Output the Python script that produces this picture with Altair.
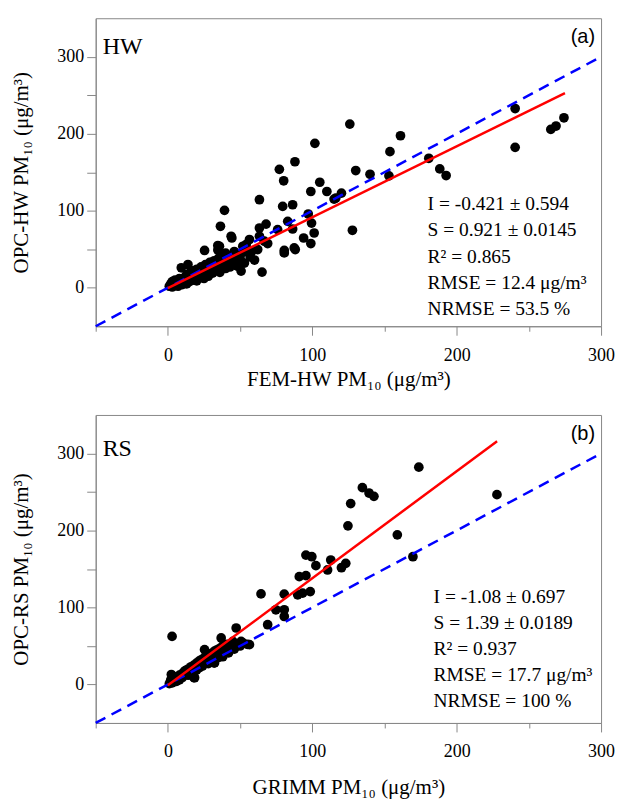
import altair as alt
import pandas as pd

# ---------------- data ----------------
hw_fem = [126.0, 101.8, 161.1, 153.8, 130.1, 140.0, 153.1, 180.7, 188.3, 192.7,
          240.5, 240.5, 265.2, 268.8, 274.3, 127.8, 105.2, 99.0, 110.1, 115.1,
          120.2, 97.2, 99.5, 101.3, 94.0, 99.0, 88.0, 77.2, 80.2, 116.3,
          63.4, 79.5, 86.4, 83.0, 63.4, 68.0, 86.4, 76.0, 80.6, 87.5,
          63.4, 54.2, 39.2, 36.4, 44.3, 69.1, 65.2, 50.7, 25.4, 34.6,
          34.6, 80.6, 88.2, 9.3, 13.9, 35.7, 43.8, 56.5, 51.9, 62.2,
          66.8,
          1, 2, 3, 3, 4, 5, 5, 6, 7, 7, 8, 8, 9, 10, 10, 11, 12, 12, 13, 13,
          14, 15, 15, 16, 17, 17, 18, 18, 19, 20, 20, 21, 22, 22, 23, 24, 25, 25,
          26, 27, 28, 28, 29, 30, 30, 31, 32, 32, 33, 34, 35, 35, 36, 37, 38, 38,
          39, 40, 40, 41, 42, 43, 44, 45, 46, 47, 48, 49, 50, 52, 53, 55, 57, 58, 60]
hw_opc = [212.5, 187.5, 197.4, 176.7, 152.2, 147.4, 145.3, 168.1, 154.3, 145.7,
          232.7, 182.3, 205.6, 210.0, 220.7, 74.6, 137.0, 125.0, 125.0, 115.1,
          122.8, 95.7, 84.0, 71.1, 64.6, 57.4, 163.6, 153.8, 138.9, 116.4,
          114.3, 105.6, 107.8, 86.2, 77.6, 82.7, 76.3, 75.5, 48.4, 51.7,
          66.8, 56.1, 100.5, 79.8, 64.6, 57.4, 20.3, 21.6, 48.4, 54.8,
          49.0, 45.2, 49.6, 25.9, 30.2, 53.9, 66.8, 62.6, 53.9, 49.6,
          60.4,
          2, 5, 1, 8, 4, 3, 10, 6, 2, 9, 5, 12, 8, 4, 11, 7, 14, 9, 5, 17,
          11, 8, 19, 13, 15, 22, 10, 18, 14, 24, 9, 17, 20, 13, 27, 18, 22, 12,
          30, 20, 25, 15, 33, 22, 28, 19, 35, 26, 30, 24, 38, 29, 20, 33, 42, 28,
          35, 25, 45, 31, 38, 27, 40, 33, 47, 36, 28, 42, 38, 46, 32, 50, 40, 47, 36]

rs_grimm = [173.8, 227.9, 134.7, 139.3, 142.7, 126.6, 124.7, 158.9, 169.7, 95.6,
            99.7, 102.5, 112.8, 110.6, 120.2, 123.2, 95.6, 98.6, 93.3, 64.5,
            80.6, 74.8, 80.6, 80.6, 91.0, 89.9, 2.9, 69.1, 47.3, 36.9,
            25.4, 50.7, 45.0, 56.5, 32.3, 18.5, 2.4,
            1, 2, 2, 3, 4, 4, 5, 6, 6, 7, 8, 8, 9, 10, 10, 11, 12, 12, 13, 14, 14,
            15, 16, 16, 17, 18, 18, 19, 20, 20, 21, 22, 22, 23, 24, 24, 25, 26, 27,
            28, 28, 29, 30, 30, 31, 32, 32, 33, 34, 35, 36, 37, 38, 38, 40, 41, 42,
            44, 45, 46, 48, 50, 52, 55]
rs_opc = [282.2, 246.5, 255.6, 248.6, 244.3, 234.9, 206.0, 194.3, 165.9, 168.0,
          165.9, 154.3, 161.6, 148.7, 151.6, 157.3, 141.3, 120.6, 118.6, 117.6,
          117.3, 97.0, 97.0, 88.3, 140.0, 116.4, 62.4, 77.6, 73.3, 60.4,
          45.2, 56.0, 49.5, 51.7, 28.0, 8.7, 12.9,
          1, 3, 6, 2, 5, 9, 7, 4, 10, 9, 12, 6, 11, 14, 9, 16, 13, 18, 15, 20, 12,
          18, 23, 15, 21, 25, 9, 22, 28, 19, 26, 31, 22, 28, 33, 24, 30, 36, 29,
          38, 27, 34, 40, 30, 36, 43, 28, 38, 45, 35, 47, 40, 50, 36, 44, 52, 41,
          48, 56, 46, 52, 50, 54, 52]

# regression fits as printed on the chart
hw_fit = {"I": -0.421, "S": 0.921, "xmax": 275}
rs_fit = {"I": -1.08, "S": 1.39, "xmax": 228}
one_to_one = [-50, 300]

hw_text = ["I = -0.421 ± 0.594", "S = 0.921 ± 0.0145", "R² = 0.865",
           "RMSE = 12.4 μg/m³", "NRMSE = 53.5 %"]
rs_text = ["I = -1.08 ± 0.697", "S = 1.39 ± 0.0189", "R² = 0.937",
           "RMSE = 17.7 μg/m³", "NRMSE = 100 %"]

x_ticks = [-50, 0, 50, 100, 150, 200, 250, 300]
y_ticks = [0, 50, 100, 150, 200, 250, 300]

SERIF = "Liberation Serif"
W, H = 507, 309


def panel(xs, ys, fit, lines, tag, letter, xtitle, ytitle, text_x, text_y0, tag_y, xtitle_y):
    df = pd.DataFrame({"x": xs, "y": ys})
    xaxis = alt.Axis(
        values=x_ticks,
        labelExpr="(datum.value % 100 === 0 && datum.value >= 0) ? datum.label : ''",
        tickSize={"condition": {"test": "datum.value % 100 === 0", "value": 9}, "value": 5},
        labelPadding=11,
        title=xtitle, titleY=xtitle_y, titleBaseline="middle",
    )
    yaxis = alt.Axis(
        values=y_ticks,
        labelExpr="datum.value % 100 === 0 ? datum.label : ''",
        tickSize=9, labelPadding=3,
        title=ytitle, titleX=-74, titleBaseline="middle", titleAngle=270,
    )
    xs_ = alt.Scale(domain=[-50, 300], nice=False, zero=False)
    ys_ = alt.Scale(domain=[-50, 350], nice=False, zero=False)

    pts = alt.Chart(df).mark_circle(size=95, color="black", opacity=1).encode(
        x=alt.X("x:Q", scale=xs_, axis=xaxis),
        y=alt.Y("y:Q", scale=ys_, axis=yaxis),
    )
    d11 = pd.DataFrame({"x": one_to_one, "y": one_to_one})
    blue = alt.Chart(d11).mark_line(color="#0000ff", strokeWidth=2.5, strokeDash=[11, 7]).encode(
        x="x:Q", y="y:Q")
    fx = [0, fit["xmax"]]
    dfit = pd.DataFrame({"x": fx, "y": [fit["I"] + fit["S"] * v for v in fx]})
    red = alt.Chart(dfit).mark_line(color="#ff0000", strokeWidth=2.5).encode(x="x:Q", y="y:Q")

    one = pd.DataFrame({"k": [0]})
    layers = [pts, blue, red]
    for i, t in enumerate(lines):
        layers.append(alt.Chart(one).mark_text(
            text=t, align="left", baseline="middle", font=SERIF, fontSize=19.5, color="black"
        ).encode(x=alt.value(text_x), y=alt.value(text_y0 + i * 26.2)))
    layers.append(alt.Chart(one).mark_text(
        text=tag, align="left", baseline="alphabetic", font=SERIF, fontSize=24, color="black"
    ).encode(x=alt.value(7), y=alt.value(tag_y)))
    layers.append(alt.Chart(one).mark_text(
        text=letter, align="right", baseline="middle", font="Liberation Sans", fontSize=20, color="black"
    ).encode(x=alt.value(501), y=alt.value(19)))
    return alt.layer(*layers).properties(width=W, height=H)


top = panel(hw_fem, hw_opc, hw_fit, hw_text, "HW", "(a)",
            "FEM-HW PM₁₀ (μg/m³)", "OPC-HW PM₁₀ (μg/m³)", 333, 186.7, 36, 53)
bottom = panel(rs_grimm, rs_opc, rs_fit, rs_text, "RS", "(b)",
               "GRIMM PM₁₀ (μg/m³)", "OPC-RS PM₁₀ (μg/m³)", 339, 182.4, 41, 65)

chart = alt.vconcat(top, bottom, spacing=89, bounds="flush").properties(
    padding={"left": 10, "top": 16, "right": 4, "bottom": 2}
).configure_view(stroke="#888888", strokeWidth=1).configure_axis(
    grid=False, domainColor="#888888", tickColor="#888888", domainWidth=1, tickWidth=1,
    labelFont=SERIF, labelFontSize=18, labelColor="black",
    titleFont=SERIF, titleFontSize=21, titleFontWeight="normal", titleColor="black",
    labelFlush=False, labelOverlap=False,
)

chart.save("out.html", embed_options={"renderer": "svg", "actions": False})
